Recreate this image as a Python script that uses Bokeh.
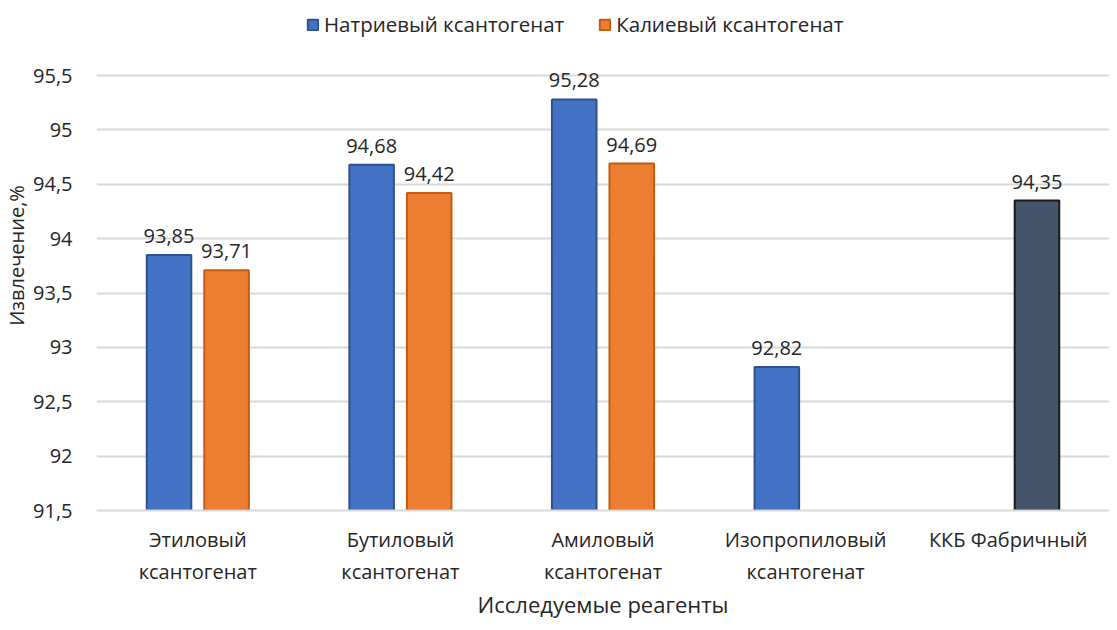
from bokeh.plotting import figure
from bokeh.models import ColumnDataSource, FactorRange, Range1d, FixedTicker, Legend, LegendItem
from bokeh.transform import dodge
from bokeh.core.properties import value
from bokeh.embed import file_html
from bokeh.resources import INLINE

categories = ["Этиловый\nксантогенат", "Бутиловый\nксантогенат", "Амиловый\nксантогенат",
              "Изопропиловый\nксантогенат", "ККБ Фабричный"]
sodium = [93.85, 94.68, 95.28, 92.82, None]
potassium = [93.71, 94.42, 94.69, None, None]
factory = [None, None, None, None, 94.35]
y_ticks = [91.5, 92, 92.5, 93, 93.5, 94, 94.5, 95, 95.5]
y_tick_labels = ["91,5", "92", "92,5", "93", "93,5", "94", "94,5", "95", "95,5"]
series_names = ["Натриевый ксантогенат", "Калиевый ксантогенат"]

Y_MIN = 91.5
Y_TOP_ROOM = 96.19   # extra room above the last tick for the legend (no gridline there)
FONT = "Open Sans"
TXT = "#262626"

def fmt(v):
    return "" if v is None else ("%.2f" % v).replace(".", ",")

def src(vals):
    cats = [c for c, v in zip(categories, vals) if v is not None]
    vs = [v for v in vals if v is not None]
    return ColumnDataSource(dict(cat=cats, val=vs, lab=[fmt(v) for v in vs]))

p = figure(x_range=FactorRange(*categories), y_range=Range1d(Y_MIN, Y_TOP_ROOM),
           frame_width=1013, frame_height=510, output_backend="svg", toolbar_location=None,
           min_border_left=80, min_border_right=0, min_border_top=0, min_border_bottom=10)
p.outline_line_color = None
p.background_fill_color = "white"

s_na, s_k, s_f = src(sodium), src(potassium), src(factory)
off = 0.142
bw = 0.22
r1 = p.vbar(x=dodge("cat", -off, range=p.x_range), top="val", bottom=Y_MIN, width=bw, source=s_na,
            fill_color="#4472C4", line_color="#2F528F", line_width=2)
r2 = p.vbar(x=dodge("cat", off, range=p.x_range), top="val", bottom=Y_MIN, width=bw, source=s_k,
            fill_color="#ED7D31", line_color="#C55A11", line_width=2)
p.vbar(x=dodge("cat", off, range=p.x_range), top="val", bottom=Y_MIN, width=bw, source=s_f,
       fill_color="#44546A", line_color="#1a1a1a", line_width=2)

for s, o in ((s_na, -off), (s_k, off), (s_f, off)):
    p.text(x=dodge("cat", o, range=p.x_range), y="val", text="lab", source=s,
           text_align="center", text_baseline="bottom", y_offset=-12,
           text_font=value(FONT), text_font_size="20px", text_color=TXT)

# grid
p.xgrid.grid_line_color = None
p.ygrid.grid_line_color = "#d9d9d9"
p.ygrid.grid_line_width = 2
p.yaxis.ticker = FixedTicker(ticks=y_ticks)
p.yaxis.major_label_overrides = {t: l for t, l in zip(y_ticks, y_tick_labels)}
p.yaxis.axis_line_color = None
p.yaxis.major_tick_line_color = None
p.yaxis.minor_tick_line_color = None
p.yaxis.major_label_standoff = 18
p.yaxis.axis_label = "Извлечение,%"
p.yaxis.axis_label_standoff = 0

p.xaxis.axis_line_color = "#d9d9d9"
p.xaxis.axis_line_width = 2
p.xaxis.major_tick_line_color = None
p.xaxis.major_label_standoff = 9
p.xaxis.axis_label = "Исследуемые реагенты"
p.xaxis.axis_label_standoff = 1

for ax in (p.xaxis[0], p.yaxis[0]):
    ax.major_label_text_font = FONT
    ax.major_label_text_font_size = "20px"
    ax.major_label_text_color = TXT
    ax.axis_label_text_font = FONT
    ax.axis_label_text_font_style = "normal"
    ax.axis_label_text_color = TXT
p.xaxis.axis_label_text_font_size = "22px"
p.yaxis.axis_label_text_font_size = "20px"

legend = Legend(items=[LegendItem(label=series_names[0], renderers=[r1]),
                       LegendItem(label=series_names[1], renderers=[r2])],
                orientation="horizontal", location=(210, 472),
                label_text_font=FONT, label_text_font_size="20.5px", label_text_color=TXT,
                glyph_width=13, glyph_height=13, spacing=34, label_standoff=5,
                border_line_color=None, background_fill_alpha=0, margin=0, padding=0)
p.add_layout(legend, "center")

open("out.html", "w").write(file_html(p, INLINE))
